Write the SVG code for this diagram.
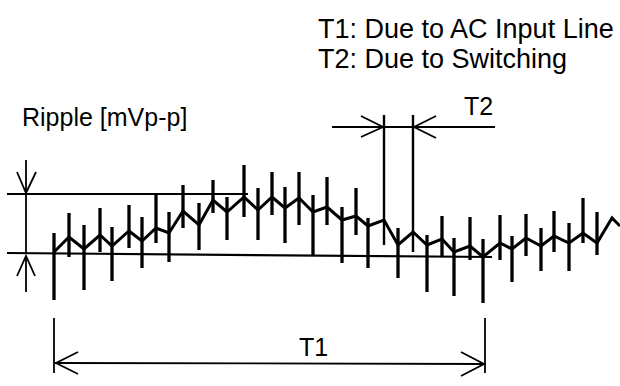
<svg xmlns="http://www.w3.org/2000/svg" width="620" height="386" viewBox="0 0 620 386">
<style>
.t{font-family:"Liberation Sans",Arial,sans-serif;font-size:25px;fill:#000}
.h{font-size:27px}
.dim{stroke:#000;stroke-width:1.8;fill:none}
.wave{stroke:#000;stroke-width:3;fill:none;stroke-linejoin:miter}
.sp{stroke:#000;stroke-width:3.3;fill:none}
.base{stroke:#000;stroke-width:2.2;fill:none}
</style>
<rect width="620" height="386" fill="#fff"/>
<g id="legend">
<text class="t h" x="318" y="38">T1: Due to AC Input Line</text>
<text class="t h" x="318" y="68">T2: Due to Switching</text>
</g>
<g id="ripple-label"><text class="t" x="22" y="126">Ripple [mVp-p]</text></g>
<g id="t2-label"><text class="t" x="464" y="115">T2</text></g>
<g id="t1-label"><text class="t" x="299" y="356">T1</text></g>
<g id="reference-lines">
<line class="base" x1="7" y1="194" x2="248" y2="194"/>
<line class="base" x1="7" y1="253" x2="492" y2="257"/>
</g>
<g id="spikes" class="sp">
<path d="M54 233V300M69 213V257M84 225V290M100 208V252M112 227V281M129 205V248M142 217V268M156 195V243M169 212V262M183 185V228M199 203V250M213 180V213M227 197V240M244 165V217M258 188V240M272 172V215M285 187V243M299 172V225M313 195V255M327 177V225M342 207V263M356 188V235M368 218V268M398 228V278M427 235V292M442 216V257M454 238V296M470 217V260M483 239V303M500 215V260M512 236V282M526 214V256M541 228V271M554 211V252M569 223V271M583 198V243M597 212V255"/>
</g>
<g id="waveform">
<polyline class="wave" points="54,252 69,237 84,249 100,235 112,246 129,231 142,241 156,228 169,233 183,211 199,225 213,200 227,212 244,197 258,210 272,197 285,208 299,198 313,212 327,207 342,220 356,216 368,226 384,220 398,245 413,232 427,245 442,239 454,252 470,246 483,257 500,243 512,249 526,238 541,246 554,236 569,243 583,233 597,243 612,218 620,226"/>
</g>
<g id="connectors" class="dim">
<line x1="26" y1="160" x2="26" y2="254"/>
<polyline points="17,172 26,193 36,172"/>
<line x1="26" y1="256" x2="26" y2="292"/>
<polyline points="17,276 26,256 35,276"/>
<line x1="384" y1="115" x2="384" y2="245" stroke-width="2.4"/>
<line x1="413" y1="115" x2="413" y2="252" stroke-width="2.4"/>
<line x1="332" y1="127" x2="495" y2="127"/>
<polyline points="361,116 383,127 361,137"/>
<polyline points="436,116 414,127 436,138"/>
<line x1="54" y1="318" x2="54" y2="373"/>
<line x1="485" y1="318" x2="485" y2="373"/>
<line x1="55" y1="363" x2="484" y2="364"/>
<polyline points="78,352 56,363 78,374"/>
<polyline points="461,352 484,364 461,376"/>
</g>
</svg>
